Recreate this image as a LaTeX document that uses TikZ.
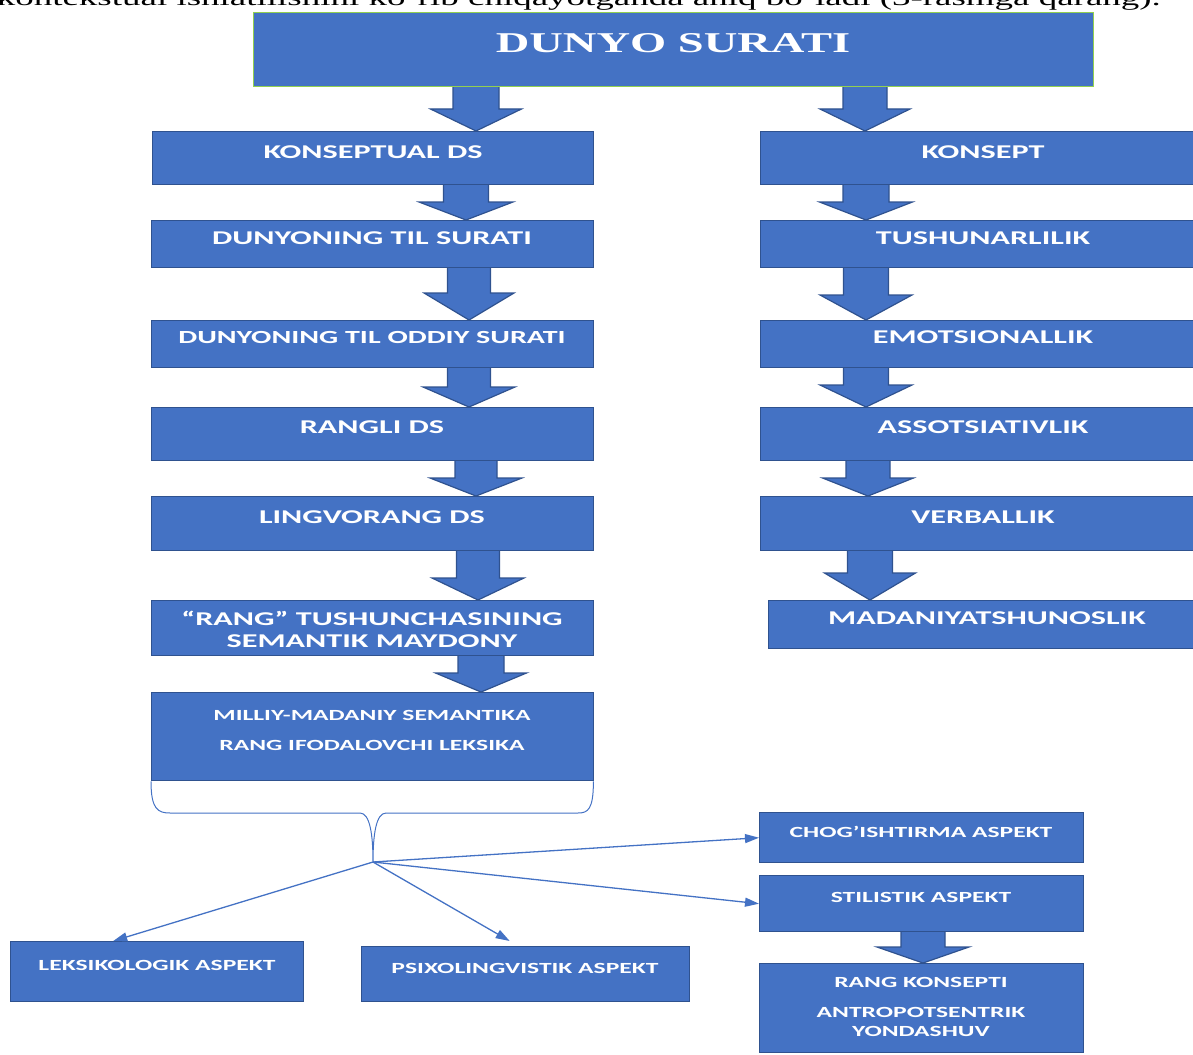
\documentclass[tikz,border=0pt]{standalone}
\usepackage{fontspec}
\usepackage{graphicx}
\setmainfont{Liberation Serif}
\newfontfamily\carl{Carlito}
\usetikzlibrary{arrows.meta,calc}
\definecolor{boxfill}{HTML}{4472C4}
\definecolor{boxline}{HTML}{2F528F}
\definecolor{topline}{HTML}{92D050}
\definecolor{conncol}{HTML}{4472C4}
\newcommand\wt[1]{\scalebox{1.65}[1]{#1}}
\pgfdeclarelayer{bg}
\pgfsetlayers{bg,main}
\tikzset{
  box/.style={draw=boxline, fill=boxfill, line width=1.4pt, inner sep=0pt, anchor=north west},
  lbl/.style={text=white, inner sep=0pt, font=\carl\bfseries\fontsize{19.5}{22}\selectfont},
  slbl/.style={text=white, inner sep=0pt, font=\carl\bfseries\fontsize{15.5}{18}\selectfont},
  blk/.style={draw=boxline, fill=boxfill, line width=1.2pt, line join=miter},
  link/.style={draw=conncol, line width=1.3pt, -{Triangle[length=14pt,width=9pt]}},
  bracestyle/.style={draw=conncol, line width=1pt},
}
\newcommand\barrow[6]{%
  \draw[blk] let \p1=(#1.south), \p2=(#2.north) in
    ({(#3-#4)*1pt},{\y1+2pt}) -- ({(#3-#4)*1pt},{\y2+#6pt}) -- ({(#3-#5)*1pt},{\y2+#6pt}) -- ({#3*1pt},\y2) -- ({(#3+#5)*1pt},{\y2+#6pt}) -- ({(#3+#4)*1pt},{\y2+#6pt}) -- ({(#3+#4)*1pt},{\y1+2pt}) -- cycle;}
\begin{document}
\begin{tikzpicture}[x=1pt,y=-1pt]
\useasboundingbox (0,0) rectangle (1193,1054);
\clip (0,0) rectangle (1193,1054);
% cut-off line of running text
\node[anchor=base east, inner sep=0pt, font=\fontsize{22.4}{26}\selectfont] (cap) at (1161,6)
  {\wt{kontekstual ishlatilishini ko‘rib chiqayotganda aniq bo‘ladi (3-rasmga qarang).}};
% top box
\node[box, draw=topline, line width=1.2pt, minimum width=840pt, minimum height=74pt] (T) at (253,12) {};
\node[text=white, inner sep=0pt, font=\bfseries\fontsize{28.7}{32}\selectfont] (tT) at (673,43) {\scalebox{1.62}[1]{DUNYO SURATI}};
% left column
\node[box, minimum width=441pt, minimum height=53pt] (L1) at (152,131) {};
\node[box, minimum width=442pt, minimum height=47pt] (L2) at (151,220) {};
\node[box, minimum width=442pt, minimum height=47pt] (L3) at (151,320) {};
\node[box, minimum width=442pt, minimum height=53pt] (L4) at (151,407) {};
\node[box, minimum width=442pt, minimum height=54pt] (L5) at (151,496) {};
\node[box, minimum width=442pt, minimum height=55pt] (L6) at (151,600) {};
\node[box, minimum width=442pt, minimum height=88pt] (L7) at (151,692) {};
\node[lbl] (tL1) at (373,152) {\wt{KONSEPTUAL DS}};
\node[lbl] (tL2) at (372,238) {\wt{DUNYONING TIL SURATI}};
\node[lbl, font=\carl\bfseries\fontsize{18.5}{22}\selectfont] (tL3) at (372,337) {\scalebox{1.625}[1]{DUNYONING TIL ODDIY SURATI}};
\node[lbl] (tL4) at (372,427) {\wt{RANGLI DS}};
\node[lbl] (tL5) at (372,517) {\wt{LINGVORANG DS}};
\node[lbl] (tL6a) at (372,618) {\wt{“RANG” TUSHUNCHASINING}};
\node[lbl] (tL6b) at (372,641) {\wt{SEMANTIK MAYDONY}};
\node[slbl] (tL7a) at (372,715) {\wt{MILLIY-MADANIY SEMANTIKA}};
\node[slbl] (tL7b) at (372,745) {\wt{RANG IFODALOVCHI LEKSIKA}};
% right column
\node[box, minimum width=446pt, minimum height=53pt] (K1) at (760,131) {};
\node[box, minimum width=446pt, minimum height=47pt] (K2) at (760,220) {};
\node[box, minimum width=446pt, minimum height=47pt] (K3) at (760,320) {};
\node[box, minimum width=446pt, minimum height=53pt] (K4) at (760,407) {};
\node[box, minimum width=446pt, minimum height=54pt] (K5) at (760,496) {};
\node[box, minimum width=440pt, minimum height=48pt] (K6) at (768,600) {};
\node[lbl] (tK1) at (983,152) {\wt{KONSEPT}};
\node[lbl] (tK2) at (983,238) {\wt{TUSHUNARLILIK}};
\node[lbl] (tK3) at (983,337) {\wt{EMOTSIONALLIK}};
\node[lbl] (tK4) at (983,427) {\wt{ASSOTSIATIVLIK}};
\node[lbl] (tK5) at (983,517) {\wt{VERBALLIK}};
\node[lbl] (tK6) at (987,618) {\wt{MADANIYATSHUNOSLIK}};
% bottom boxes
\node[box, minimum width=293pt, minimum height=60pt] (LK) at (10,941) {};
\node[box, minimum width=328pt, minimum height=55pt] (PS) at (361,946) {};
\node[box, minimum width=324pt, minimum height=50pt] (CH) at (759,812) {};
\node[box, minimum width=324pt, minimum height=56pt] (ST) at (759,875) {};
\node[box, minimum width=324pt, minimum height=89pt] (RK) at (759,963) {};
\node[slbl] (tLK) at (157,965) {\wt{LEKSIKOLOGIK ASPEKT}};
\node[slbl] (tPS) at (525,968) {\wt{PSIXOLINGVISTIK ASPEKT}};
\node[slbl] (tCH) at (921,832) {\wt{CHOG’ISHTIRMA ASPEKT}};
\node[slbl] (tST) at (921,897) {\wt{STILISTIK ASPEKT}};
\node[slbl] (tRKa) at (921,982) {\wt{RANG KONSEPTI}};
\node[slbl] (tRKb) at (921,1012) {\wt{ANTROPOTSENTRIK}};
\node[slbl] (tRKc) at (921,1031) {\wt{YONDASHUV}};
% block arrows
\begin{pgfonlayer}{bg}
\barrow{T}{L1}{476}{23}{45.5}{22}
\barrow{T}{K1}{865}{22}{45}{22}
\barrow{L1}{L2}{466}{22.5}{47}{18}
\barrow{L2}{L3}{469}{21.5}{45}{27}
\barrow{L3}{L4}{469}{21.5}{46}{20}
\barrow{L4}{L5}{476}{21}{46}{18}
\barrow{L5}{L6}{478}{21.5}{46}{22}
\barrow{L6}{L7}{481}{23}{45.5}{19}
\barrow{K1}{K2}{866}{23}{46.5}{18}
\barrow{K2}{K3}{866}{22.5}{46}{25}
\barrow{K3}{K4}{866}{22.5}{46}{22}
\barrow{K4}{K5}{868}{22}{45.5}{18}
\barrow{K5}{K6}{870}{22.5}{45.5}{27}
\barrow{ST}{RK}{923}{22}{46}{16}
\end{pgfonlayer}
% brace under L7
\coordinate (tip) at (373,862);
\draw[bracestyle] (L7.south west) .. controls ($(L7.south west)+(0,28)$) and (158,813) .. (170,813)
  -- (360,813) .. controls (370,813) and (373,835) .. (tip)
  .. controls (373,835) and (376,813) .. (386,813)
  -- (578,813) .. controls (588,813) and ($(L7.south east)+(-1,28)$) .. ($(L7.south east)+(-1,0)$);
% connectors
\draw[link] (tip) -- (CH.west);
\draw[link] (tip) -- (ST.west);
\draw[link] (tip) -- ($(PS.north)+(-16,-5)$);
\draw[link] (tip) -- ($(LK.north)+(-44,0)$);
\end{tikzpicture}
\end{document}
